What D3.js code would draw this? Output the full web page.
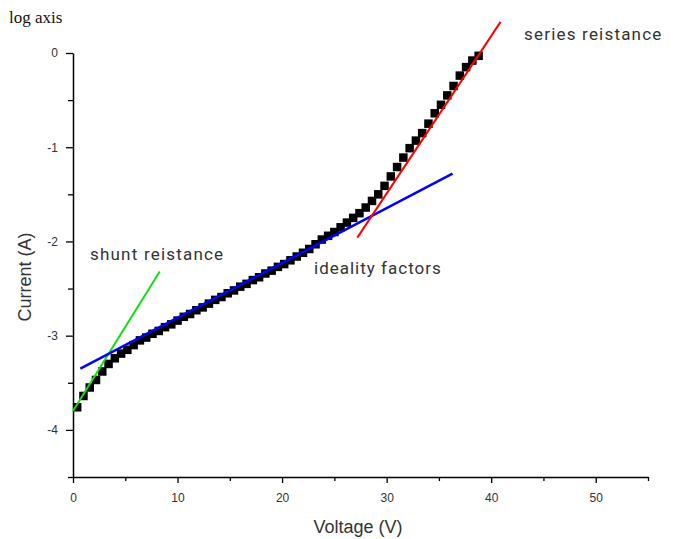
<!DOCTYPE html>
<html><head><meta charset="utf-8">
<script src="https://cdn.jsdelivr.net/npm/d3@7/dist/d3.min.js"></script>
<style>body{margin:0;background:#fff}</style>
</head><body>
<script>
const voltage = [0.4,1.0,1.6,2.2,2.8,3.4,4.0,4.6,5.2,5.8,6.4,7.0,7.6,8.2,8.8,9.4,10.0,10.6,11.2,11.8,12.4,13.0,13.6,14.2,14.8,15.4,16.0,16.6,17.2,17.8,18.4,19.0,19.6,20.2,20.8,21.4,22.0,22.6,23.2,23.8,24.4,25.0,25.6,26.2,26.8,27.4,28.0,28.6,29.2,29.8,30.4,31.0,31.6,32.2,32.8,33.4,34.0,34.6,35.2,35.8,36.4,37.0,37.6,38.2,38.8];
const logCurrent = [-3.76,-3.64,-3.55,-3.47,-3.38,-3.30,-3.24,-3.19,-3.15,-3.10,-3.05,-3.02,-2.98,-2.95,-2.91,-2.88,-2.84,-2.80,-2.77,-2.73,-2.70,-2.66,-2.62,-2.59,-2.55,-2.52,-2.48,-2.45,-2.41,-2.38,-2.34,-2.31,-2.27,-2.24,-2.20,-2.16,-2.12,-2.08,-2.03,-1.98,-1.94,-1.90,-1.85,-1.80,-1.75,-1.70,-1.64,-1.57,-1.50,-1.41,-1.31,-1.21,-1.11,-1.01,-0.93,-0.85,-0.75,-0.64,-0.55,-0.45,-0.35,-0.24,-0.15,-0.08,-0.03];
const shuntLine = [[0,-3.80],[8.3,-2.32]];
const idealityLine = [[0.7,-3.35],[36.3,-1.28]];
const seriesLine = [[27.2,-1.96],[40.9,0.33]];
const xTicks = [0,10,20,30,40,50];
const xMinor = [5,15,25,35,45,55];
const yTicks = [0,-1,-2,-3,-4];
const yMinor = [-0.5,-1.5,-2.5,-3.5,-4.5];

const W=678,H=539;
const svg=d3.select("body").append("svg").attr("width",W).attr("height",H);
const x=d3.scaleLinear().domain([0,55]).range([73,648]);
const y=d3.scaleLinear().domain([-4.5,0]).range([477,53]);
const tickFont="'Liberation Sans', Arial, sans-serif";
const txtCol="#333";

// axes
const gx=svg.append("g").attr("transform","translate(0,477)");
gx.call(d3.axisBottom(x).tickValues(xTicks).tickSize(6).tickSizeOuter(0).tickPadding(10).tickFormat(d3.format("d")));
const gxm=svg.append("g").attr("transform","translate(0,477)");
gxm.call(d3.axisBottom(x).tickValues(xMinor).tickSize(4).tickSizeOuter(0).tickFormat(""));
gxm.select(".domain").remove();
const gy=svg.append("g").attr("transform","translate(73,0)");
gy.call(d3.axisLeft(y).tickValues(yTicks).tickSize(7).tickSizeOuter(0).tickPadding(8).tickFormat(d=>d===0?"0":String(d)));
const gym=svg.append("g").attr("transform","translate(73,0)");
gym.call(d3.axisLeft(y).tickValues(yMinor).tickSize(5).tickSizeOuter(0).tickFormat(""));
gym.select(".domain").remove();
svg.selectAll(".domain").attr("stroke","#000").attr("stroke-width",1.5);
svg.selectAll(".tick line").attr("stroke","#000").attr("stroke-width",1.3);
svg.selectAll(".tick text").attr("font-family",tickFont).attr("font-size",12).attr("fill",txtCol);

// data squares
const pts=voltage.map((v,i)=>[v,logCurrent[i]]);
const sz=8.5;
svg.append("g").selectAll("rect").data(pts).join("rect")
 .attr("x",d=>x(d[0])-sz/2).attr("y",d=>y(d[1])-sz/2)
 .attr("width",sz).attr("height",sz).attr("fill","#000");

// fit lines
const line=d3.line().x(d=>x(d[0])).y(d=>y(d[1]));
svg.append("path").attr("d",line(shuntLine)).attr("stroke","#10e010").attr("stroke-width",2).attr("fill","none");
svg.append("path").attr("d",line(idealityLine)).attr("stroke","#0000ff").attr("stroke-width",2.5).attr("fill","none");
svg.append("path").attr("d",line(seriesLine)).attr("stroke","#ff0000").attr("stroke-width",2).attr("fill","none");

// texts
svg.append("text").attr("x",9).attr("y",23).attr("font-family","'Liberation Serif', 'Times New Roman', serif").attr("font-size",17).attr("fill","#111").text("log axis");
const annFont="Roboto, 'Noto Sans', sans-serif";
svg.append("text").attr("x",524).attr("y",40).attr("font-family",annFont).attr("font-size",17).attr("fill",txtCol).attr("letter-spacing",1.2).text("series reistance");
svg.append("text").attr("x",90).attr("y",260).attr("font-family",annFont).attr("font-size",17).attr("fill",txtCol).attr("letter-spacing",1.2).text("shunt reistance");
svg.append("text").attr("x",314).attr("y",274).attr("font-family",annFont).attr("font-size",17).attr("fill",txtCol).attr("letter-spacing",1.0).text("ideality factors");
svg.append("text").attr("x",358).attr("y",533).attr("text-anchor","middle").attr("font-family",tickFont).attr("font-size",18).attr("fill",txtCol).text("Voltage (V)");
svg.append("text").attr("transform","translate(31,277) rotate(-90)").attr("text-anchor","middle").attr("font-family",tickFont).attr("font-size",18).attr("fill",txtCol).text("Current (A)");
</script>
</body></html>
